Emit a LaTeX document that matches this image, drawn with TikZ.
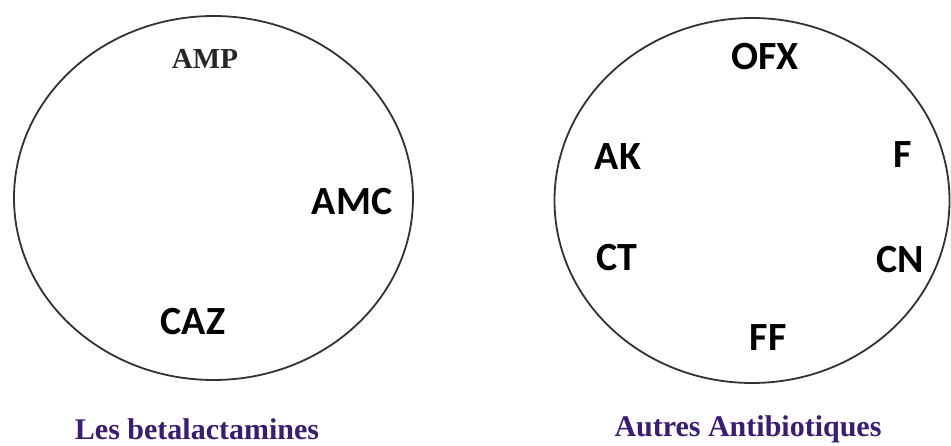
\documentclass[tikz,border=0pt]{standalone}
\usepackage{fontspec}
\usetikzlibrary{shapes.geometric}
\setmainfont{Liberation Serif}
\newfontfamily\lblfont{Carlito}
\definecolor{capcol}{RGB}{58,28,112}
\definecolor{ringcol}{RGB}{50,50,50}
\tikzset{
  ring/.style={draw=ringcol, line width=1.8pt},
  drug/.style={font=\lblfont\bfseries\fontsize{40}{44}\selectfont, text=black, inner sep=0pt, anchor=center},
  serifdrug/.style={font=\bfseries\fontsize{29}{32}\selectfont, text=black!85, inner sep=0pt},
  caption/.style={font=\bfseries\fontsize{30}{34}\selectfont, text=capcol, inner sep=0pt}
}
\begin{document}
\begin{tikzpicture}[x=1pt,y=-1pt]
\useasboundingbox (0,0) rectangle (951,446);
\fill[white] (0,0) rectangle (951,446);
\node[ring, ellipse, minimum width=399pt, minimum height=364pt, inner sep=0pt] (left) at (213.5,198) {};
\node[ring, ellipse, minimum width=395pt, minimum height=365pt, inner sep=0pt] (right) at (752,200.5) {};
\node[serifdrug] (amp) at (205,59) {AMP};
\node[drug] (amc) at (352,202) {AMC};
\node[drug] (caz) at (193,322) {CAZ};
\node[drug] (ofx) at (765,57) {OFX};
\node[drug] (ak) at (618,157) {AK};
\node[drug] (f) at (903,155) {F};
\node[drug] (ct) at (617,258) {CT};
\node[drug] (cn) at (900,260) {CN};
\node[drug] (ff) at (768,338) {FF};
\node[caption] (capl) at (197,429) {Les betalactamines};
\node[caption] (capr) at (748,429) {Autres Antibiotiques};
\end{tikzpicture}
\end{document}
